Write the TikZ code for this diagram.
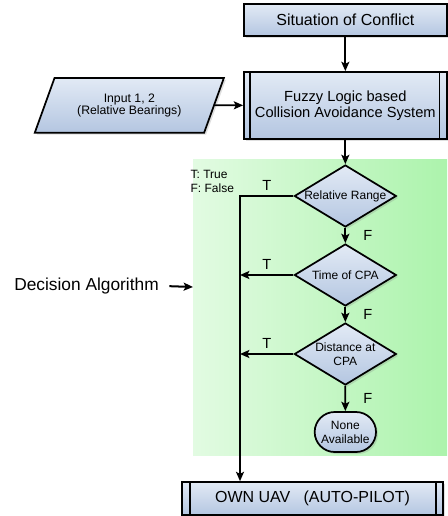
\documentclass[tikz,border=0pt]{standalone}
\usepackage{fontspec}
\setmainfont{Liberation Sans}
\usetikzlibrary{arrows.meta}
\usetikzlibrary{positioning}
\usetikzlibrary{shapes}
\usetikzlibrary{shadows}

\definecolor{boxtop}{RGB}{226,234,245}
\definecolor{boxbot}{RGB}{180,198,225}
\definecolor{zoneL}{RGB}{226,251,226}
\definecolor{zoneR}{RGB}{172,243,172}

\begin{document}
\begin{tikzpicture}[->, >={Stealth[length=7pt, width=6pt, inset=1.5pt]}, line width=1.3pt,
	node distance=59.25pt,
	blueish/.style={draw, top color=boxtop, bottom color=boxbot,
				drop shadow={shadow xshift=1.5pt, shadow yshift=-1.5pt, opacity=0.25}},
	proc/.style={rectangle, blueish, font=\fontsize{12}{14}\selectfont,
				minimum width=152pt, minimum height=24pt},
	subproc/.style={proc, align=center, font=\fontsize{11}{12}\selectfont},
	inout/.style={trapezium, blueish, trapezium left angle=65, trapezium right angle=115,
				trapezium stretches=true, align=center, font=\fontsize{9.2}{9}\selectfont,
				minimum width=142pt, minimum height=41pt},
	decide/.style={diamond, blueish, aspect=1.65, inner sep=0pt, align=center,
				font=\fontsize{9}{10.5}\selectfont, minimum width=76.5pt, minimum height=46.5pt},
	finish/.style={rounded rectangle, blueish, align=center, inner sep=1pt,
				font=\fontsize{9}{10.5}\selectfont, minimum width=48pt, minimum height=30pt},
	tflabel/.style={font=\fontsize{11}{12}\selectfont},
]
\useasboundingbox (0,0) rectangle (335.25pt,-387pt);
% green area of the decision part
\fill [left color=zoneL, right color=zoneR] (144.75pt,-120pt) rectangle (335.25pt,-341.25pt);
\coordinate (zone) at (144.75pt,-215.25pt);
%
\node [proc]    (sit) at (259pt,-15pt) {Situation of Conflict};
\node [subproc] (fuzzy) [below of=sit, node distance=64pt, minimum height=50pt]
	{Fuzzy Logic based\\Collision Avoidance System};
\node [inout]   (input) [left of=fuzzy, node distance=162pt] {Input 1, 2\\(Relative Bearings)};
\node [decide]  (rr) at (259pt,-147pt) {Relative Range};
\node [decide]  (tc) [below of=rr] {Time of CPA};
\node [decide]  (dc) [below of=tc] {Distance at\\CPA};
\node [finish]  (none) [below of=dc, node distance=58.5pt] {None\\Available};
\node [proc]    (own) at (234.4pt,-373.9pt) [minimum width=195.75pt, minimum height=24.75pt]
	{OWN UAV\ \ \ (AUTO-PILOT)};
\node [font=\fontsize{13}{15}\selectfont] (da) at (64.9pt,-214.5pt) {Decision Algorithm};
\node [align=left, anchor=west, font=\fontsize{9}{10.5}\selectfont] (legend) at (139pt,-135.75pt)
	{T: True\\F: False};
\coordinate (bend) at (180pt,-147pt);
%
\draw [-] ([xshift=5pt]fuzzy.north west) -- ([xshift=5pt]fuzzy.south west);
\draw [-] ([xshift=-6pt]fuzzy.north east) -- ([xshift=-6pt]fuzzy.south east);
\draw [-] ([xshift=6.5pt]own.north west) -- ([xshift=6.5pt]own.south west);
\draw [-] ([xshift=-6pt]own.north east) -- ([xshift=-6pt]own.south east);
%
\draw [->] (sit) -- (fuzzy);
\draw [->] (input) -- (fuzzy);
\draw [->] (fuzzy) -- (rr);
\draw [->] (rr) -- node[tflabel, right, xshift=9.5pt] {F} (tc);
\draw [->] (tc) -- node[tflabel, right, xshift=9.5pt] {F} (dc);
\draw [->] (dc) -- node[tflabel, right, xshift=9.5pt] {F} (none);
\draw [->] (rr.west) -- node[tflabel, above] {T} (bend) -- (bend |- own.north);
\draw [->] (tc.west) -- node[tflabel, above] {T} (tc.west -| bend);
\draw [->] (dc.west) -- node[tflabel, above] {T} (dc.west -| bend);
\draw [->, line width=1.5pt, shorten <=4pt] (da.east) -- (zone);
\end{tikzpicture}
\end{document}
